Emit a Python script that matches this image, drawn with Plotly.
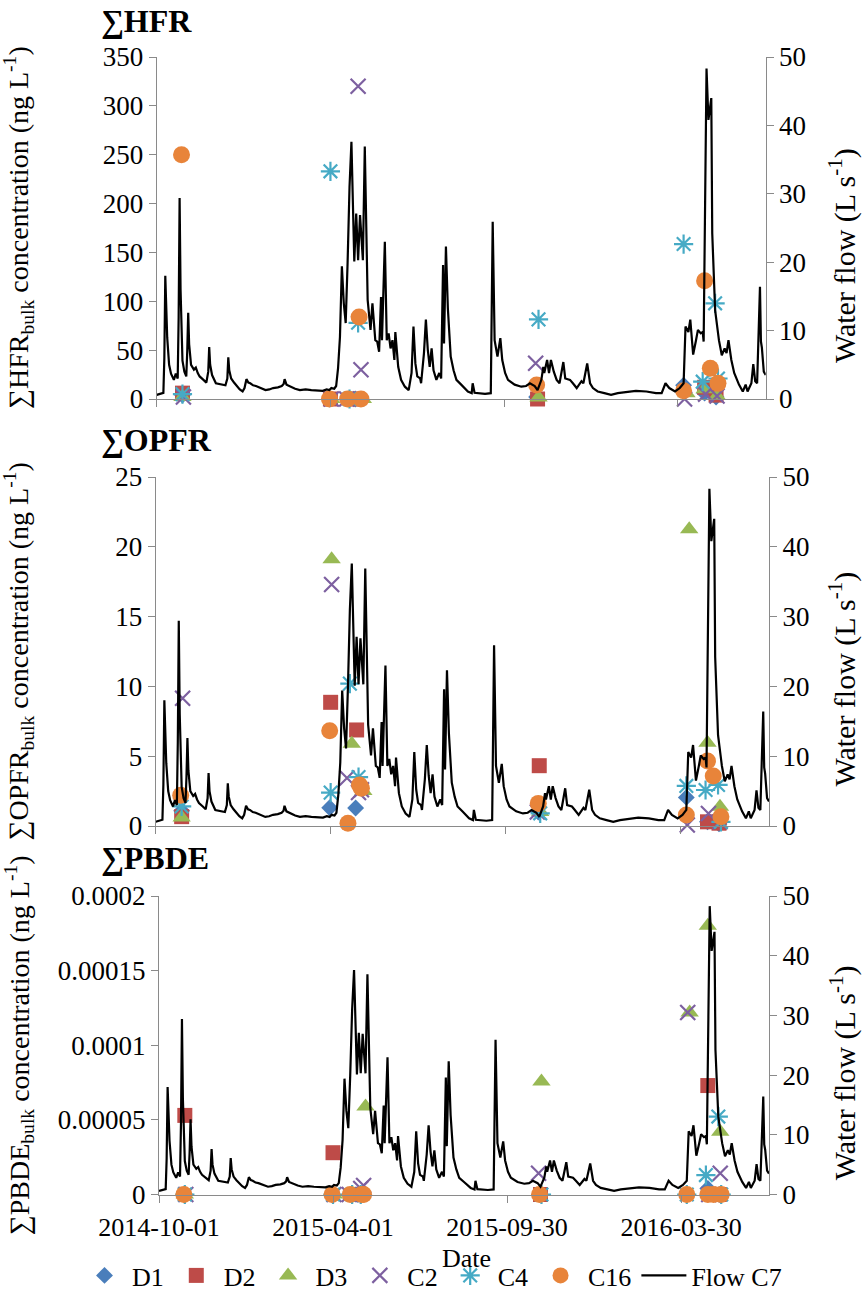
import plotly.graph_objects as go

W, H = 864, 1299

# ---------------- discharge record, station C7 (L s-1) ----------------
flow_dates = [
    "2014-10-01", "2014-10-08", "2014-10-09", "2014-10-10", "2014-10-12", "2014-10-14",
    "2014-10-16", "2014-10-19", "2014-10-21", "2014-10-23", "2014-10-24", "2014-10-25",
    "2014-10-26", "2014-10-28", "2014-10-30", "2014-11-01", "2014-11-02", "2014-11-03",
    "2014-11-04", "2014-11-06", "2014-11-09", "2014-11-11", "2014-11-13", "2014-11-15",
    "2014-11-19", "2014-11-22", "2014-11-24", "2014-11-25", "2014-11-26", "2014-11-28",
    "2014-12-02", "2014-12-07", "2014-12-12", "2014-12-14", "2014-12-15", "2014-12-16",
    "2014-12-18", "2014-12-21", "2014-12-24", "2014-12-27", "2014-12-30", "2015-01-01",
    "2015-01-03", "2015-01-05", "2015-01-07", "2015-01-10", "2015-01-13", "2015-01-18",
    "2015-01-23", "2015-01-27", "2015-01-31", "2015-02-05", "2015-02-09", "2015-02-11",
    "2015-02-12", "2015-02-14", "2015-02-18", "2015-02-23", "2015-02-28", "2015-03-06",
    "2015-03-12", "2015-03-18", "2015-03-24", "2015-03-28", "2015-03-31", "2015-04-02",
    "2015-04-05", "2015-04-07", "2015-04-09", "2015-04-11", "2015-04-13", "2015-04-15",
    "2015-04-17", "2015-04-19", "2015-04-21", "2015-04-23", "2015-04-26", "2015-04-28",
    "2015-04-30", "2015-05-02", "2015-05-05", "2015-05-07", "2015-05-09", "2015-05-10",
    "2015-05-13", "2015-05-15", "2015-05-18", "2015-05-20", "2015-05-22", "2015-05-24",
    "2015-05-25", "2015-05-28", "2015-05-30", "2015-06-01", "2015-06-03", "2015-06-05",
    "2015-06-07", "2015-06-08", "2015-06-11", "2015-06-14", "2015-06-18", "2015-06-22",
    "2015-06-25", "2015-06-27", "2015-06-29", "2015-07-01", "2015-07-04", "2015-07-05",
    "2015-07-08", "2015-07-10", "2015-07-12", "2015-07-14", "2015-07-16", "2015-07-18",
    "2015-07-21", "2015-07-24", "2015-07-26", "2015-07-28", "2015-07-29", "2015-07-31",
    "2015-08-02", "2015-08-05", "2015-08-08", "2015-08-11", "2015-08-16", "2015-08-20",
    "2015-08-23", "2015-08-27", "2015-08-28", "2015-08-30", "2015-09-04", "2015-09-10",
    "2015-09-16", "2015-09-17", "2015-09-18", "2015-09-20", "2015-09-23", "2015-09-26",
    "2015-09-28", "2015-10-01", "2015-10-04", "2015-10-11", "2015-10-18", "2015-10-23",
    "2015-10-27", "2015-11-01", "2015-11-04", "2015-11-08", "2015-11-10", "2015-11-11",
    "2015-11-14", "2015-11-16", "2015-11-18", "2015-11-21", "2015-11-24", "2015-11-27",
    "2015-12-01", "2015-12-03", "2015-12-08", "2015-12-11", "2015-12-15", "2015-12-20",
    "2015-12-22", "2015-12-26", "2015-12-29", "2016-01-01", "2016-01-06", "2016-01-13",
    "2016-01-20", "2016-01-27", "2016-02-07", "2016-02-15", "2016-02-26", "2016-03-07",
    "2016-03-13", "2016-03-17", "2016-03-21", "2016-03-27", "2016-04-01", "2016-04-05",
    "2016-04-07", "2016-04-10", "2016-04-12", "2016-04-15", "2016-04-18", "2016-04-20",
    "2016-04-23", "2016-04-25", "2016-04-26", "2016-04-29", "2016-05-01", "2016-05-04",
    "2016-05-05", "2016-05-08", "2016-05-12", "2016-05-15", "2016-05-18", "2016-05-20",
    "2016-05-22", "2016-05-25", "2016-05-28", "2016-06-02", "2016-06-06", "2016-06-09",
    "2016-06-11", "2016-06-15", "2016-06-17", "2016-06-19", "2016-06-21", "2016-06-24",
    "2016-06-25", "2016-06-26", "2016-06-28", "2016-06-30",
]
flow_values = [
    0.6, 0.9, 6.0, 18.0, 9.0, 5.0,
    3.7, 2.8, 3.7, 3.0, 12.0, 29.4,
    16.0, 5.6, 4.0, 3.3, 7.0, 12.6,
    8.0, 5.0, 4.3, 4.6, 3.8, 3.3,
    2.8, 2.4, 4.0, 7.6, 5.0, 3.5,
    2.3, 2.1, 2.0, 3.0, 6.1, 4.2,
    3.0, 2.4, 1.9, 1.4, 1.1, 1.6,
    2.9, 2.4, 2.3, 2.0, 1.9, 1.6,
    1.3, 1.4, 1.6, 1.7, 1.9, 2.2,
    2.9, 2.1, 1.8, 1.5, 1.3, 1.4,
    1.3, 1.3, 1.2, 1.4, 1.3, 1.6,
    1.5, 1.9, 4.5, 9.1, 19.4, 14.0,
    11.1, 20.0, 31.0, 37.6, 20.1, 27.1,
    20.3, 26.9, 20.3, 36.9, 22.0, 14.5,
    10.1, 14.0, 8.6, 8.4, 6.9, 14.9,
    8.6, 23.0, 8.6, 9.6, 7.4, 8.6,
    5.7, 9.8, 4.7, 2.8, 1.8, 1.3,
    3.8, 10.6, 5.2, 3.3, 3.0, 2.3,
    6.7, 11.6, 7.2, 4.7, 7.4, 4.2,
    2.8, 3.8, 3.0, 19.6, 8.1, 22.3,
    13.3, 6.2, 4.2, 2.8, 2.1, 1.5,
    1.1, 0.85, 2.3, 0.9, 0.8, 0.75,
    0.85, 10.0, 25.9, 8.6, 6.2, 8.9,
    5.7, 3.8, 2.8, 2.1, 1.8, 1.9,
    2.3, 1.9, 1.3, 2.8, 4.7, 3.8,
    5.7, 3.8, 5.7, 4.0, 2.8, 2.3,
    5.4, 3.0, 2.8, 2.3, 1.6, 2.6,
    2.3, 5.2, 2.3, 1.6, 1.1, 0.85,
    0.6, 0.85, 1.1, 1.2, 1.1, 0.85,
    0.85, 2.3, 1.6, 1.1, 1.6, 2.3,
    10.6, 9.8, 11.6, 6.5, 8.6, 10.1,
    9.6, 9.8, 8.4, 48.3, 40.8, 44.0,
    24.2, 13.0, 8.6, 6.4, 7.4, 6.7,
    8.6, 5.7, 3.8, 2.1, 1.1, 2.1,
    1.1, 2.3, 5.1, 2.6, 2.3, 16.4,
    8.4, 7.5, 4.0, 3.5,
]

# ---------------- bulk concentrations (ng L-1) per sampling site ----------------
d1_dates = ["2014-10-28", "2015-03-31", "2015-04-27", "2015-11-03", "2016-04-05", "2016-04-27", "2016-05-09"]
d1_hfr = [4, 0, 0, 2, 14, 6, 2]
d1_opfr = [1.1, 1.31, 1.29, 1.0, 2.05, 0.3, 0.15]
d1_pbde = [0, 0, 0, 0, 0, 0.000004, 0]

d2_dates = ["2014-10-28", "2015-04-01", "2015-04-28", "2015-11-04", "2016-04-27", "2016-05-09"]
d2_hfr = [6, 0, 0, 0, 12, 4]
d2_opfr = [0.67, 8.86, 6.88, 4.32, 0.3, 0.2]
d2_pbde = [0.000053, 0.000028, 0, 0, 0.000073, 0]

d3_dates = ["2014-10-28", "2015-04-02", "2015-04-23", "2015-05-05", "2015-11-05", "2016-04-08", "2016-04-27", "2016-05-10"]
d3_hfr = [2, 0, 0, 0, 1.5, 6, 10, 3]
d3_opfr = [0.6, 19.1, 5.9, 2.5, 1.0, 21.25, 5.97, 1.38]
d3_pbde = [0, 0, 0, 0.000059, 0.0000757, 0.000122, 0.00018, 0.000042]

c2_dates = ["2014-10-29", "2015-04-02", "2015-04-18", "2015-04-30", "2015-05-03", "2015-11-02", "2016-04-06", "2016-04-28", "2016-05-10"]
c2_hfr = [2, 0, 0, 320, 30, 36.5, 0, 5, 3]
c2_opfr = [9.15, 17.3, 3.44, 2.4, 2.6, 1.0, 0.07, 0.9, 0.3]
c2_pbde = [0, 0, 0, 0.000004, 0.000006, 0.0000142, 0.000122, 0, 0.0000142]

c4_dates = ["2014-10-28", "2015-04-01", "2015-04-21", "2015-04-30", "2015-11-05", "2016-04-05", "2016-04-25", "2016-05-08", "2016-05-11"]
c4_hfr = [5, 233, 0, 78, 81.5, 158.6, 17.7, 97.9, 21]
c4_opfr = [1.4, 2.39, 10.2, 3.5, 0.91, 2.87, 2.58, 2.94, 0.3]
c4_pbde = [0, 0, 0, 0, 0, 0, 0.000013, 0.0000522, 0]

c16_dates = ["2014-10-27", "2015-03-31", "2015-04-19", "2015-05-01", "2015-05-03", "2015-11-03", "2016-04-05", "2016-04-27", "2016-05-03", "2016-05-11"]
c16_hfr = [250, 0, 0, 84, 0, 14.3, 8.5, 121, 31.4, 16]
c16_opfr = [2.2, 6.83, 0.19, 2.94, 2.7, 1.62, 0.79, 4.66, 3.58, 0.67]
c16_pbde = [0, 0, 0, 0, 0, 0, 0, 0, 0, 0]

# tick labels
date_ticks = ["2014-10-01", "2015-04-01", "2015-09-30", "2016-03-30"]
hfr_ticks = [0, 50, 100, 150, 200, 250, 300, 350]
opfr_ticks = [0, 5, 10, 15, 20, 25]
pbde_ticks = [0, 0.00005, 0.0001, 0.00015, 0.0002]
pbde_ticktext = ["0", "0.00005", "0.0001", "0.00015", "0.0002"]
flow_ticks = [0, 10, 20, 30, 40, 50]

# ---------------- styling ----------------
FONT = "Liberation Serif, Times New Roman, serif"
AXIS_GREY = "#8a8a8a"

sites = [
    ("D1", d1_dates, [d1_hfr, d1_opfr, d1_pbde], dict(symbol="diamond", size=13, color="#4a7ebb")),
    ("D2", d2_dates, [d2_hfr, d2_opfr, d2_pbde], dict(symbol="square", size=15, color="#be4b48")),
    ("D3", d3_dates, [d3_hfr, d3_opfr, d3_pbde], dict(symbol="triangle-up", size=16, color="#98b954")),
    ("C2", c2_dates, [c2_hfr, c2_opfr, c2_pbde], dict(symbol="x-thin", size=15, color="#7d60a0",
                                                      line=dict(width=2.2, color="#7d60a0"))),
    ("C4", c4_dates, [c4_hfr, c4_opfr, c4_pbde], dict(symbol="asterisk", size=16, color="#46aac5",
                                                      line=dict(width=2.2, color="#46aac5"))),
    ("C16", c16_dates, [c16_hfr, c16_opfr, c16_pbde], dict(symbol="circle", size=17, color="#e8843a")),
]

# panel geometry in pixels: (left, right, top, bottom)
panels = [
    dict(box=(156.7, 765.7, 57, 399), yrange=[0, 350], yticks=hfr_ticks, ytext=[str(v) for v in hfr_ticks],
         title="<b>∑HFR</b>", title_xy=(99, 21),
         ylabel="∑HFR<sub>bulk</sub> concentration (ng L<sup>-1</sup>)"),
    dict(box=(155.7, 769, 477, 826), yrange=[0, 25], yticks=opfr_ticks, ytext=[str(v) for v in opfr_ticks],
         title="<b>∑OPFR</b>", title_xy=(99, 440),
         ylabel="∑OPFR<sub>bulk</sub> concentration (ng L<sup>-1</sup>)"),
    dict(box=(159, 769, 896, 1194.5), yrange=[0, 0.0002], yticks=pbde_ticks, ytext=pbde_ticktext,
         title="<b>∑PBDE</b>", title_xy=(99, 858),
         ylabel="∑PBDE<sub>bulk</sub> concentration (ng L<sup>-1</sup>)"),
]


def fx(px):
    return px / W


def fy(py):
    return 1 - py / H


fig = go.Figure()
layout = dict(
    template="none",
    width=W, height=H, margin=dict(l=0, r=0, t=0, b=0, autoexpand=False),
    paper_bgcolor="white", plot_bgcolor="white",
    font=dict(family=FONT, size=26, color="black"),
    annotations=[],
)

for i, p in enumerate(panels):
    n = i + 1
    xa, yl, yr = f"x{n}", f"y{2 * n - 1}", f"y{2 * n}"
    x0, x1, top, bot = p["box"]
    last = n == len(panels)

    layout[f"xaxis{n}"] = dict(
        domain=[fx(x0), fx(x1)], anchor=yl, type="date",
        range=["2014-10-01", "2016-06-30"],
        tickmode="array", tickvals=date_ticks, ticktext=date_ticks,
        ticks="outside", ticklen=7, tickcolor=AXIS_GREY, tickwidth=1,
        showline=True, linecolor=AXIS_GREY, linewidth=1,
        showgrid=False, zeroline=False, showticklabels=last, automargin=False,
        tickfont=dict(size=26), ticklabelstandoff=2,
    )
    layout[f"yaxis{2 * n - 1}"] = dict(
        domain=[fy(bot), fy(top)], anchor=xa, side="left",
        range=p["yrange"], tickmode="array", tickvals=p["yticks"], ticktext=p["ytext"],
        ticks="outside", ticklen=7, tickcolor=AXIS_GREY,
        showline=True, linecolor=AXIS_GREY, linewidth=1, automargin=False,
        showgrid=False, zeroline=False, tickfont=dict(size=27),
    )
    layout[f"yaxis{2 * n}"] = dict(
        domain=[fy(bot), fy(top)], anchor=xa, overlaying=yl, side="right",
        range=[0, 50], tickmode="array", tickvals=flow_ticks,
        ticks="outside", ticklen=7, tickcolor=AXIS_GREY,
        showline=True, linecolor=AXIS_GREY, linewidth=1, automargin=False,
        showgrid=False, zeroline=False, tickfont=dict(size=27),
    )

    for name, dates, values, mk in sites:
        fig.add_trace(go.Scatter(
            x=dates, y=values[i], mode="markers", name=name,
            marker=mk, xaxis=xa, yaxis=yl, cliponaxis=False,
            showlegend=(n == 1), legendgroup=name,
        ))
    fig.add_trace(go.Scatter(
        x=flow_dates, y=flow_values, mode="lines", name="Flow C7",
        line=dict(color="black", width=2.2), xaxis=xa, yaxis=yr,
        showlegend=(n == 1), legendgroup="flow",
    ))

    tx, ty = p["title_xy"]
    layout["annotations"].append(dict(
        text=p["title"], x=fx(tx), y=fy(ty), xref="paper", yref="paper",
        xanchor="left", yanchor="middle", showarrow=False, font=dict(size=32),
    ))
    layout["annotations"].append(dict(
        text=p["ylabel"], x=fx(19), y=fy((top + bot) / 2), xref="paper", yref="paper",
        xanchor="center", yanchor="middle", textangle=-90, showarrow=False, font=dict(size=28),
    ))
    layout["annotations"].append(dict(
        text="Water flow (L s<sup>-1</sup>)", x=fx(843), y=fy((top + bot) / 2 + 28),
        xref="paper", yref="paper", xanchor="center", yanchor="middle",
        textangle=-90, showarrow=False, font=dict(size=30),
    ))

layout["annotations"].append(dict(
    text="Date", x=fx(466), y=fy(1258), xref="paper", yref="paper",
    xanchor="center", yanchor="middle", showarrow=False, font=dict(size=26),
))
layout["legend"] = dict(
    orientation="h", x=fx(77), y=0, xanchor="left", yanchor="bottom",
    font=dict(size=26), itemwidth=45,
    bgcolor="rgba(0,0,0,0)", borderwidth=0, tracegroupgap=0,
)

fig.update_layout(**layout)
fig.write_html("out.html")
